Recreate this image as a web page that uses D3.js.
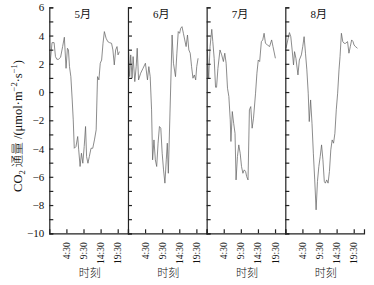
<!DOCTYPE html>
<html>
<head>
<meta charset="utf-8">
<script src="https://cdn.jsdelivr.net/npm/d3@7"></script>
<style>
  body { margin: 0; background: #fff; }
  text { font-family: "Liberation Serif", "Noto Sans CJK SC", serif; fill: #111; }
</style>
</head>
<body>
<div id="chart"></div>
<script>
// Data (hour of day, CO2 flux)
const MONTHS = ["5月", "6月", "7月", "8月"];

const HOURS_MAY = [-0.3,0.3,0.9,1.3,1.7,2.2,2.8,3.4,3.9,4.4,4.8,5.1,5.4,5.8,6.2,6.5,6.8,7.3,7.8,8.1,8.5,8.9,9.3,9.7,10.1,10.4,10.8,11.2,11.7,12.2,12.7,13.2,13.6,14.0,14.4,14.8,15.2,15.6,16.1,16.6,17.1,17.7,18.1,18.5,18.9,19.3,19.6,20.0];
const FLUX_MAY = [1.92,3.50,3.50,2.51,2.32,2.32,2.46,3.22,3.88,1.68,3.10,2.98,1.80,1.09,-0.56,-1.97,-3.98,-3.86,-3.15,-4.09,-5.27,-4.33,-5.04,-3.86,-2.44,-4.57,-5.04,-4.57,-3.98,-3.98,-3.39,-2.68,1.09,0.86,2.04,2.27,3.45,4.28,3.81,3.57,3.50,3.45,2.98,1.92,2.98,3.22,2.63,2.86];

const HOURS_JUN = [-0.3,0.0,0.3,0.7,1.0,1.5,1.9,2.2,2.6,3.2,3.9,4.6,5.2,5.6,6.0,6.4,6.7,7.1,7.5,7.9,8.3,8.7,9.1,9.5,9.9,10.3,10.7,11.0,11.3,12.4,12.8,13.4,13.8,14.2,14.6,14.9,15.3,15.7,16.1,16.5,16.9,17.3,17.7,18.1,18.5,18.9,19.3,19.6,20.0];
const FLUX_JUN = [2.86,1.09,2.63,0.98,2.51,0.74,1.80,3.10,0.86,1.33,1.68,2.04,0.86,1.80,1.09,-1.26,-4.80,-3.39,-4.80,-5.27,-3.62,-2.44,-2.56,-4.33,-5.51,-6.45,-4.80,-3.62,-5.75,4.04,2.04,1.09,2.75,4.28,4.16,4.51,4.63,4.16,3.69,3.22,4.04,2.98,2.75,1.80,0.98,1.21,0.86,1.80,2.39];

const HOURS_JUL = [-0.3,0.1,0.5,1.0,1.3,1.7,2.1,2.4,2.8,3.4,3.9,4.4,4.8,5.2,5.6,6.0,6.4,6.6,7.0,7.4,7.8,8.1,8.5,8.9,9.3,9.7,10.1,10.5,10.9,11.2,11.6,12.0,12.4,12.8,13.2,13.8,14.2,14.6,15.0,15.5,15.9,16.3,16.7,17.3,17.9,18.5,18.9,19.6];
const FLUX_JUL = [2.98,0.98,3.22,4.44,3.57,2.39,0.34,0.34,1.68,2.98,2.63,2.16,2.75,2.04,0.27,-0.32,-1.97,-3.50,-1.38,-2.21,-2.92,-6.22,-4.57,-3.74,-4.33,-5.27,-5.75,-5.51,-5.63,-5.98,-6.22,-1.26,-1.03,-2.56,-1.85,-0.08,1.33,2.27,2.16,3.57,3.69,4.16,3.45,3.33,3.22,3.69,3.22,2.39];

const HOURS_AUG = [-0.3,0.7,1.1,1.5,1.9,2.2,2.6,3.2,3.6,4.2,4.6,5.0,5.4,5.8,6.2,6.5,6.9,7.3,7.7,8.1,8.5,8.9,9.3,9.7,10.1,10.5,10.9,11.2,11.6,12.0,12.4,12.8,13.2,13.6,14.0,14.4,14.8,15.2,15.5,15.9,16.3,16.7,17.1,17.7,18.1,18.5,18.9,19.3,19.6,20.0,20.6];
const FLUX_AUG = [3.10,4.21,3.92,2.98,1.92,2.86,2.39,1.21,2.27,2.63,3.22,3.92,2.75,1.57,-0.08,-2.09,-0.56,-2.21,-4.33,-6.22,-8.34,-6.33,-5.27,-4.57,-3.74,-4.80,-6.33,-6.45,-6.22,-6.45,-5.63,-4.09,-3.39,-3.62,-2.92,-1.26,-0.08,1.57,2.51,4.16,3.57,3.45,3.45,3.57,2.75,3.22,3.69,3.57,3.33,3.22,3.10];

const X_TICKS = [4.5, 9.5, 14.5, 19.5];
const X_TICK_LABELS = ["4:30", "9:30", "14:30", "19:30"];
const Y_TICKS = [-10,-9,-8,-7,-6,-5,-4,-3,-2,-1,0,1,2,3,4,5,6];
const Y_LABELS = [-10,-8,-6,-4,-2,0,2,4,6];

const SERIES = [
  {hours: HOURS_MAY, flux: FLUX_MAY},
  {hours: HOURS_JUN, flux: FLUX_JUN},
  {hours: HOURS_JUL, flux: FLUX_JUL},
  {hours: HOURS_AUG, flux: FLUX_AUG}
];

// Set frame
const FRAME_WIDTH = 374;
const FRAME_HEIGHT = 285;
const MARGINS = {left: 49.3, top: 7.3, bottom: 51.7};
const PANEL_W = 78.67;
const VIS_BOTTOM = FRAME_HEIGHT - MARGINS.bottom;

const FRAME = d3.select("#chart")
  .append("svg")
    .attr("width", FRAME_WIDTH)
    .attr("height", FRAME_HEIGHT);

const Y_SCALE = d3.scaleLinear()
  .domain([-10, 6])
  .range([VIS_BOTTOM, MARGINS.top]);

const X_SCALE = d3.scaleLinear()
  .domain([-0.5, 22.5])
  .range([0, PANEL_W]);

const fmt = d3.format("");

SERIES.forEach((s, i) => {
  const panel = FRAME.append("g")
    .attr("transform", "translate(" + (MARGINS.left + i * PANEL_W) + ",0)");

  const pts = s.hours.map((h, j) => [h, s.flux[j]]);
  panel.append("path")
    .datum(pts)
    .attr("fill", "none")
    .attr("stroke", "#666")
    .attr("stroke-width", 0.75)
    .attr("d", d3.line().x(d => X_SCALE(d[0])).y(d => Y_SCALE(d[1])));

  // y axis, ticks point inward
  const yAxis = panel.append("g")
    .call(d3.axisLeft(Y_SCALE)
      .tickValues(Y_TICKS)
      .tickSizeInner(-4)
      .tickSizeOuter(-4)
      .tickPadding(5)
      .tickFormat(d => (i === 0 && Y_LABELS.includes(d)) ? fmt(d) : ""));
  yAxis.attr("font-size", 11).attr("font-family", null);

  // x axis
  const xAxis = panel.append("g")
    .attr("transform", "translate(0," + VIS_BOTTOM + ")")
    .call(d3.axisBottom(X_SCALE)
      .tickValues(X_TICKS)
      .tickSizeInner(-4)
      .tickSizeOuter(-4)
      .tickFormat((d, j) => X_TICK_LABELS[j]));
  xAxis.attr("font-size", 9.5).attr("font-family", null);
  xAxis.selectAll("text")
    .attr("transform", "rotate(-90)")
    .attr("text-anchor", "end")
    .attr("x", -9)
    .attr("y", 0)
    .attr("dy", "0.32em");

  [yAxis, xAxis].forEach(a => {
    a.selectAll("path, line").attr("stroke", "#222").attr("stroke-width", 1.2);
  });

  // month title
  panel.append("text")
    .attr("x", PANEL_W / 2 - 6)
    .attr("y", 18)
    .attr("text-anchor", "middle")
    .attr("font-size", 11)
    .text(MONTHS[i]);

  // x label
  panel.append("text")
    .attr("x", PANEL_W / 2 + 1)
    .attr("y", 277)
    .attr("text-anchor", "middle")
    .attr("font-size", 11)
    .attr("font-weight", 300)
    .text("时刻");
});

// y axis title
const yTitle = FRAME.append("text")
  .attr("transform", "translate(22,126) rotate(-90)")
  .attr("text-anchor", "middle")
  .attr("font-size", 12.5);
yTitle.append("tspan").text("CO");
yTitle.append("tspan").attr("font-size", 8.5).attr("dy", 3).text("2");
yTitle.append("tspan").attr("dy", -3).attr("font-weight", 300).text(" 通量 ");
yTitle.append("tspan").text("/(μmol·m");
yTitle.append("tspan").attr("font-size", 8.5).attr("dy", -5).text("−2");
yTitle.append("tspan").attr("dy", 5).text("·s");
yTitle.append("tspan").attr("font-size", 8.5).attr("dy", -5).text("−1");
yTitle.append("tspan").attr("dy", 5).text(")");
</script>
</body>
</html>
